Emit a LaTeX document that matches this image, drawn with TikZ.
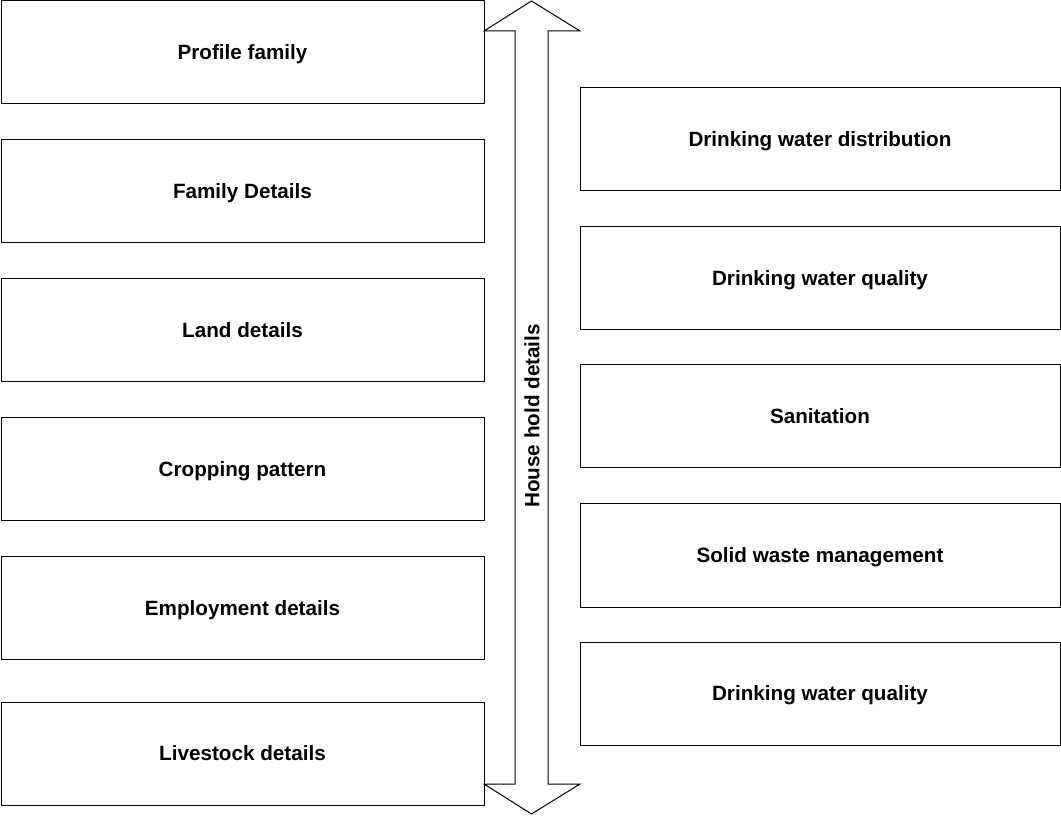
\documentclass[tikz,border=0pt]{standalone}
\usepackage{fontspec}
\setmainfont{Liberation Sans}
\usepackage{tikz}

\begin{document}
\begin{tikzpicture}[x=0.75pt,y=0.75pt,yscale=-1,xscale=1,
  lbox/.style={draw, line width=0.75pt, minimum width=362.25pt, minimum height=77.25pt, inner sep=0pt, text height=11pt, text depth=0pt, font=\fontsize{15.5pt}{18pt}\selectfont\bfseries},
  rbox/.style={lbox, minimum width=360pt}]
\useasboundingbox (0,0) rectangle (1061,816);
\draw  [line width=0.75pt] (531.5,1) -- (580,31) -- (548,31) -- (548,784) -- (580,784) -- (531.5,814) -- (484,784) -- (515,784) -- (515,31) -- (484,31) -- cycle ;
\node (household) at (532,416) [rotate=90, inner sep=0pt, font=\fontsize{15.5pt}{18pt}\selectfont\bfseries] {House hold details};
\node (profile) at (242.5,52.5) [lbox] {Profile family};
\node (family) at (242.5,191.5) [lbox] {Family Details};
\node (land) at (242.5,330.5) [lbox] {Land details};
\node (cropping) at (242.5,469.5) [lbox] {Cropping pattern};
\node (employment) at (242.5,608) [lbox] {Employment details};
\node (livestock) at (242.5,753.5) [lbox] {Livestock details};
\node (distribution) at (820,139.3) [rbox] {Drinking water distribution};
\node (quality) at (820,278.3) [rbox] {Drinking water quality};
\node (sanitation) at (820,416.5) [rbox] {Sanitation};
\node (waste) at (820,555.5) [rbox] {Solid waste management};
\node (qualitytwo) at (820,693.5) [rbox] {Drinking water quality};
\end{tikzpicture}
\end{document}
